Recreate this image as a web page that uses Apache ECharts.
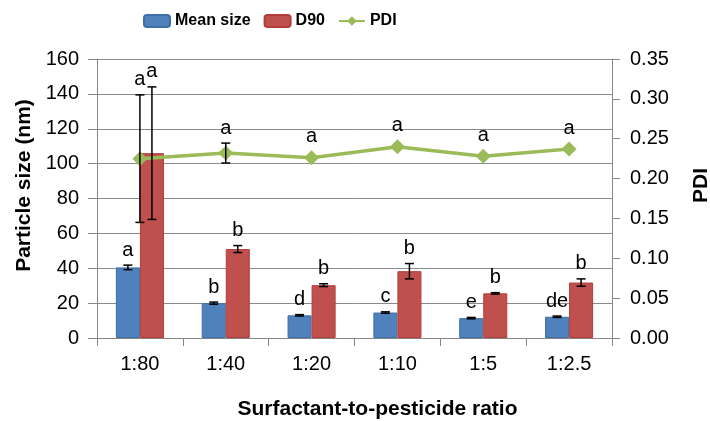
<!DOCTYPE html>
<html>
<head>
<meta charset="utf-8">
<script src="https://cdn.jsdelivr.net/npm/echarts@6/dist/echarts.min.js"></script>
<style>html,body{margin:0;padding:0;background:#fff}#c{width:710px;height:421px}</style>
</head>
<body>
<div id="c"></div>
<script>
const categories = ['1:80', '1:40', '1:20', '1:10', '1:5', '1:2.5'];
const meanSize = [40.5, 20.0, 13.0, 14.6, 11.4, 12.2];
const meanErr = [1.3, 0.6, 0.4, 0.4, 0.4, 0.4];
const meanLetters = ['a', 'b', 'd', 'c', 'e', 'de'];
const d90 = [106, 51, 30.3, 38.3, 25.6, 31.8];
const d90Err = [38, 2.0, 0.8, 4.4, 0.4, 2.1];
const d90Letters = ['a', 'b', 'b', 'b', 'b', 'b'];
const pdi = [0.225, 0.232, 0.226, 0.240, 0.228, 0.237];
const pdiErr = [0.08, 0.0125, 0, 0, 0, 0];
const pdiLetters = ['a', 'a', 'a', 'a', 'a', 'a'];
const leftTicks = {min: 0, max: 160, interval: 20};
const rightTicks = {min: 0, max: 0.35, interval: 0.05};

const FONT = '"Liberation Sans", Arial, sans-serif';
const CAT_GAP = 0.44;

function errSeries(name, values, errs, letters, yAxisIndex, side) {
  return {
    type: 'custom',
    name: name + ' err',
    yAxisIndex: yAxisIndex,
    z: 10,
    silent: true,
    data: values.map((v, i) => [i, v, errs[i], letters[i]]),
    renderItem: function (params, api) {
      const i = api.value(0), v = api.value(1), e = api.value(2);
      const letter = letters[i];
      const band = api.size([1, 0])[0];
      const barW = band * (1 - CAT_GAP) / 2;
      const c = api.coord([i, v]);
      const x = c[0] + side * barW / 2;
      const children = [];
      let topPx;
      if (e > 0) {
        const top = api.coord([i, v + e])[1];
        const bot = api.coord([i, v - e])[1];
        const st = {stroke: '#000', lineWidth: 1.5};
        children.push({type: 'line', shape: {x1: x, y1: top, x2: x, y2: bot}, style: st});
        children.push({type: 'line', shape: {x1: x - 4.5, y1: top, x2: x + 4.5, y2: top}, style: st});
        children.push({type: 'line', shape: {x1: x - 4.5, y1: bot, x2: x + 4.5, y2: bot}, style: st});
        topPx = top;
      } else {
        topPx = c[1] - (side === 0 ? 6 : 0);
      }
      children.push({
        type: 'text',
        style: {
          text: letter, x: x, y: topPx - 5,
          align: 'center', verticalAlign: 'bottom',
          fill: '#000', font: '20px ' + FONT
        }
      });
      return {type: 'group', children: children};
    }
  };
}

const chart = echarts.init(document.getElementById('c'));
chart.setOption({
  animation: false,
  textStyle: {fontFamily: FONT},
  legend: {
    left: 138, top: 8,
    itemWidth: 26, itemHeight: 12, itemGap: 13,
    textStyle: {fontSize: 16, fontWeight: 'bold', color: '#000', fontFamily: FONT},
    data: ['Mean size', 'D90', 'PDI']
  },
  grid: {left: 97, right: 98, top: 59, bottom: 83, containLabel: false, outerBoundsMode: 'none'},
  xAxis: {
    type: 'category',
    data: categories,
    axisLine: {lineStyle: {color: '#868686', width: 1}},
    axisTick: {show: true, length: 8, lineStyle: {color: '#868686'}},
    axisLabel: {fontSize: 20, color: '#000', margin: 16, fontFamily: FONT},
    name: 'Surfactant-to-pesticide ratio',
    nameLocation: 'middle',
    nameGap: 61,
    nameTextStyle: {fontSize: 21, fontWeight: 'bold', color: '#000', fontFamily: FONT, padding: [0, 0, 0, 46]}
  },
  yAxis: [{
    type: 'value',
    min: leftTicks.min, max: leftTicks.max, interval: leftTicks.interval,
    axisLine: {show: true, lineStyle: {color: '#868686'}},
    axisTick: {show: true, length: 9, lineStyle: {color: '#868686'}},
    splitLine: {show: true, lineStyle: {color: '#8a8a8a', width: 1}},
    axisLabel: {fontSize: 20, color: '#000', margin: 18, fontFamily: FONT},
    name: 'Particle size (nm)',
    nameLocation: 'middle',
    nameRotate: 90,
    nameGap: 62,
    nameTextStyle: {fontSize: 21, fontWeight: 'bold', color: '#000', fontFamily: FONT, padding: [0, 0, 0, 26]}
  }, {
    type: 'value',
    position: 'right',
    min: rightTicks.min, max: rightTicks.max, interval: rightTicks.interval,
    axisLine: {show: true, lineStyle: {color: '#868686'}},
    axisTick: {show: true, length: 8, lineStyle: {color: '#868686'}},
    splitLine: {show: false},
    axisLabel: {fontSize: 20, color: '#000', margin: 18, fontFamily: FONT, formatter: v => v.toFixed(2)},
    name: 'PDI',
    nameLocation: 'middle',
    nameRotate: 90,
    nameGap: 79,
    nameTextStyle: {fontSize: 21, fontWeight: 'bold', color: '#000', fontFamily: FONT, padding: [0, 0, 0, 26]}
  }],
  series: [{
    name: 'Mean size', type: 'bar', data: meanSize,
    barGap: '0%', barCategoryGap: (CAT_GAP * 100) + '%',
    itemStyle: {color: '#4F81BD', borderColor: '#3F6FA8', borderWidth: 1}
  }, {
    name: 'D90', type: 'bar', data: d90,
    itemStyle: {color: '#C0504D', borderColor: '#B23C39', borderWidth: 1}
  }, {
    name: 'PDI', type: 'line', yAxisIndex: 1, data: pdi,
    z: 5,
    symbol: 'diamond', symbolSize: 15,
    lineStyle: {color: '#9BBB59', width: 3.5},
    itemStyle: {color: '#9BBB59'}
  },
    errSeries('Mean size', meanSize, meanErr, meanLetters, 0, -1),
    errSeries('D90', d90, d90Err, d90Letters, 0, 1),
    errSeries('PDI', pdi, pdiErr, pdiLetters, 1, 0)
  ]
});
</script>
</body>
</html>
